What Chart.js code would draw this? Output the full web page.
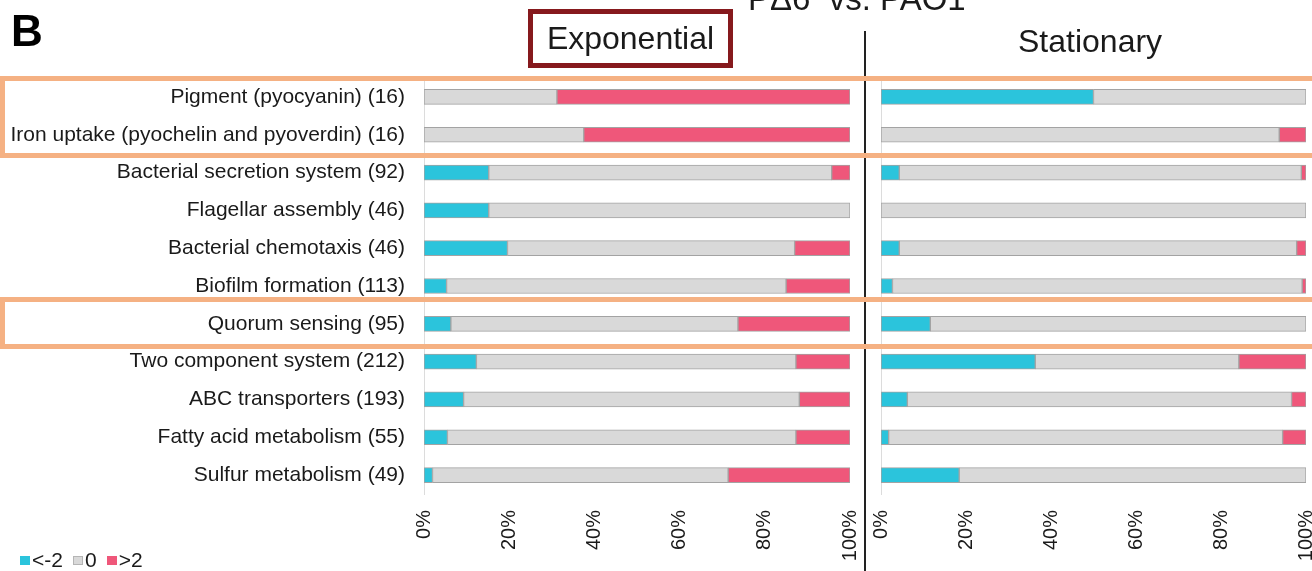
<!DOCTYPE html>
<html>
<head>
<meta charset="utf-8">
<script src="https://cdn.jsdelivr.net/npm/chart.js@4.4.1/dist/chart.umd.min.js"></script>
<style>
  html, body { margin: 0; padding: 0; background: #fff; }
  body { width: 1312px; height: 571px; overflow: hidden; position: relative;
         font-family: "Liberation Sans", Arial, sans-serif; color: #1a1a1a; }
  #wrapL { position: absolute; left: 0; top: 0; width: 866px; height: 571px; }
  #wrapR { position: absolute; left: 866px; top: 0; width: 476px; height: 571px; }
  .txt { position: absolute; line-height: 1; white-space: pre; }
  #panelLetter { left: 11px; top: 9px; font-size: 44px; font-weight: bold; color: #000; }
  #mainTitle { left: 748px; top: -18px; font-size: 33px; }
  #expTitle { left: 528px; top: 9px; width: 205px; height: 59px; box-sizing: border-box;
              border: 5px solid #86191d; }
  #expTitle span { position: absolute; left: 0; right: 0; top: 8px; text-align: center;
                   font-size: 32px; line-height: 1; }
  #statTitle { left: 1018px; top: 25px; font-size: 32px; }
  #divider { position: absolute; left: 864px; top: 31px; width: 2px; height: 545px; background: #222; }
  .hl { position: absolute; left: 0; width: 1330px; box-sizing: border-box;
        border: 5px solid #f5b183; }
  #legend { position: absolute; left: 20px; top: 550px; display: flex; align-items: center;
            font-size: 21px; line-height: 20px; color: #1a1a1a; }
  #legend .sw { width: 10px; height: 9px; margin-right: 2px; box-sizing: border-box; }
  #legend .lab { margin-right: 10px; }
</style>
</head>
<body>
<div id="wrapL"><canvas id="expChart" width="866" height="571"></canvas></div>
<div id="wrapR"><canvas id="statChart" width="476" height="571"></canvas></div>

<div id="divider"></div>
<div class="txt" id="panelLetter">B</div>
<div class="txt" id="mainTitle">PΔ6  vs. PAO1</div>
<div class="txt" id="expTitle"><span>Exponential</span></div>
<div class="txt" id="statTitle">Stationary</div>
<div class="hl" style="top:76px;height:82px"></div>
<div class="hl" style="top:297px;height:52px"></div>
<div id="legend"></div>

<script>
// KEGG pathway categories (number of genes in each)
const categories = [
  'Pigment (pyocyanin) (16)',
  'Iron uptake (pyochelin and pyoverdin) (16)',
  'Bacterial secretion system (92)',
  'Flagellar assembly (46)',
  'Bacterial chemotaxis (46)',
  'Biofilm formation (113)',
  'Quorum sensing (95)',
  'Two component system (212)',
  'ABC transporters (193)',
  'Fatty acid metabolism (55)',
  'Sulfur metabolism (49)'
];

// Share of genes (%) per fold-change class, exponential phase
const expDown = [0, 0, 15.2, 15.2, 19.6, 5.3, 6.3, 12.3, 9.3, 5.5, 2.0];
const expZero = [31.2, 37.5, 80.5, 84.8, 67.4, 79.7, 67.4, 75.0, 78.8, 81.8, 69.4];
const expUp   = [68.8, 62.5, 4.3, 0, 13.0, 15.0, 26.3, 12.7, 11.9, 12.7, 28.6];

// Share of genes (%) per fold-change class, stationary phase
const statDown = [50.0, 0, 4.3, 0, 4.3, 2.7, 11.6, 36.3, 6.2, 1.8, 18.4];
const statZero = [50.0, 93.7, 94.6, 100, 93.5, 96.4, 88.4, 47.9, 90.4, 92.7, 81.6];
const statUp   = [0, 6.3, 1.1, 0, 2.2, 0.9, 0, 15.8, 3.4, 5.5, 0];

const seriesNames = ['<-2', '0', '>2'];
const seriesColors = ['#2bc4dc', '#d9d9d9', '#ef577a'];
const xTicks = [0, 20, 40, 60, 80, 100];

const FONT = '"Liberation Sans", Arial, sans-serif';

function makeDatasets(down, zero, up) {
  return [down, zero, up].map((vals, i) => ({
    label: seriesNames[i],
    data: vals,
    backgroundColor: seriesColors[i],
    borderColor: '#a3a3a3',
    borderWidth: 1,
    borderSkipped: false,
    barThickness: 15
  }));
}

function makeChart(id, down, zero, up, opts) {
  return new Chart(document.getElementById(id), {
    type: 'bar',
    data: { labels: categories, datasets: makeDatasets(down, zero, up) },
    options: {
      indexAxis: 'y',
      responsive: false,
      animation: false,
      layout: { padding: { top: 78, right: opts.padRight, left: 0, bottom: 0 } },
      plugins: { legend: { display: false }, tooltip: { enabled: false } },
      scales: {
        x: {
          stacked: true,
          min: 0, max: 100,
          afterBuildTicks: s => { s.ticks = xTicks.map(v => ({ value: v })); },
          afterFit: s => { s.height = 77; s.paddingLeft = 0; s.paddingRight = 0; },
          grid: { display: false, drawTicks: false },
          border: { display: false },
          ticks: {
            autoSkip: false,
            minRotation: 90, maxRotation: 90,
            padding: 16,
            color: '#1a1a1a',
            font: { family: FONT, size: 20 },
            callback: v => v + '%'
          }
        },
        y: {
          stacked: true,
          afterFit: s => { s.width = opts.axisWidth; s.paddingTop = 0; s.paddingBottom = 0; },
          grid: { display: false, drawTicks: false },
          border: { display: true, color: '#dcdcdc', width: 1 },
          ticks: {
            display: opts.showLabels,
            padding: 19,
            color: '#1a1a1a',
            font: { family: FONT, size: 21 }
          }
        }
      }
    }
  });
}

makeChart('expChart', expDown, expZero, expUp, { padRight: 16, axisWidth: 424, showLabels: true });
makeChart('statChart', statDown, statZero, statUp, { padRight: 36, axisWidth: 15, showLabels: false });

// Legend for the three fold-change classes
const legend = document.getElementById('legend');
seriesNames.forEach((name, i) => {
  const sw = document.createElement('span');
  sw.className = 'sw';
  sw.style.background = seriesColors[i];
  if (i === 1) sw.style.border = '1px solid #b5b5b5';
  const lab = document.createElement('span');
  lab.className = 'lab';
  lab.textContent = name;
  legend.appendChild(sw);
  legend.appendChild(lab);
});
</script>
</body>
</html>
